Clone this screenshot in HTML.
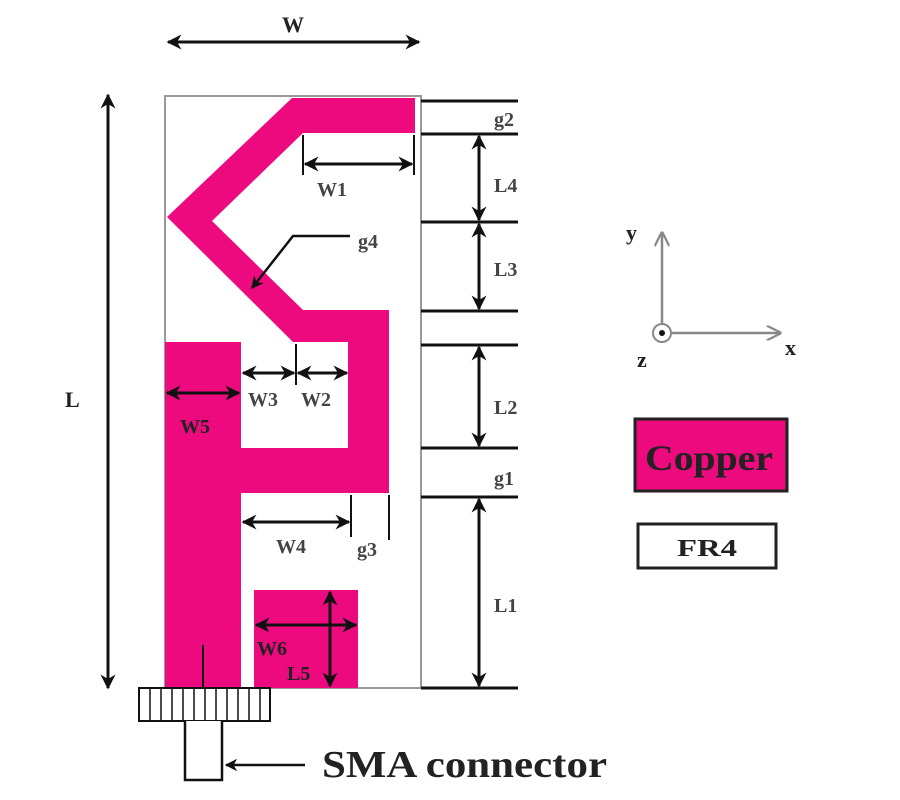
<!DOCTYPE html>
<html><head><meta charset="utf-8"><style>body{margin:0;background:#fff}svg{display:block}</style></head><body>
<svg width="900" height="800" viewBox="0 0 900 800" xmlns="http://www.w3.org/2000/svg" font-family="Liberation Serif, serif" font-weight="bold">
<defs>
<marker id="a" viewBox="0 0 10 10" refX="9" refY="5" markerWidth="5" markerHeight="5" orient="auto-start-reverse"><path d="M0,0 L10,5 L0,10 L3,5 z" fill="#111"/></marker>
<marker id="g" viewBox="0 0 10 10" refX="9" refY="5" markerWidth="6" markerHeight="6" orient="auto"><path d="M0,0 L10,5 L0,10" fill="none" stroke="#888" stroke-width="1.5"/></marker>
</defs>
<rect x="165" y="96" width="256" height="592" fill="#fff" stroke="#999" stroke-width="2"/>
<g fill="#ec0a7e">
<polygon points="292,98 415,98 415,133 303,133 212,221 303,310 389,310 389,493 241,493 241,448 348,448 348,342 293,342 167,217"/>
<rect x="165" y="342" width="76" height="346"/>
<rect x="254" y="590" width="104" height="98"/>
</g>
<g stroke="#111" stroke-width="3" fill="none">
<line x1="168" y1="42" x2="419" y2="42" marker-start="url(#a)" marker-end="url(#a)"/>
<line x1="108" y1="95" x2="108" y2="688" marker-start="url(#a)" marker-end="url(#a)"/>
<g stroke-width="3">
<line x1="421" y1="101" x2="518" y2="101"/><line x1="421" y1="134" x2="518" y2="134"/>
<line x1="421" y1="222" x2="518" y2="222"/><line x1="421" y1="311" x2="518" y2="311"/>
<line x1="421" y1="345" x2="518" y2="345"/><line x1="421" y1="448" x2="518" y2="448"/>
<line x1="421" y1="497" x2="518" y2="497"/><line x1="421" y1="688" x2="518" y2="688"/>
</g>
<line x1="479" y1="136" x2="479" y2="220" marker-start="url(#a)" marker-end="url(#a)"/>
<line x1="479" y1="224" x2="479" y2="309" marker-start="url(#a)" marker-end="url(#a)"/>
<line x1="479" y1="347" x2="479" y2="446" marker-start="url(#a)" marker-end="url(#a)"/>
<line x1="479" y1="499" x2="479" y2="686" marker-start="url(#a)" marker-end="url(#a)"/>
<line x1="303" y1="135" x2="303" y2="175" stroke-width="2"/>
<line x1="414" y1="135" x2="414" y2="175" stroke-width="2"/>
<line x1="305" y1="164" x2="412" y2="164" marker-start="url(#a)" marker-end="url(#a)"/>
<polyline points="350,236 293,236 252,288" stroke-width="2.5" marker-end="url(#a)"/>
<line x1="296" y1="344" x2="296" y2="385" stroke-width="2"/>
<line x1="243" y1="373" x2="294" y2="373" marker-start="url(#a)" marker-end="url(#a)"/>
<line x1="298" y1="373" x2="347" y2="373" marker-start="url(#a)" marker-end="url(#a)"/>
<line x1="167" y1="393" x2="239" y2="393" marker-start="url(#a)" marker-end="url(#a)"/>
<line x1="351" y1="495" x2="351" y2="537" stroke-width="2"/>
<line x1="389" y1="495" x2="389" y2="540" stroke-width="2"/>
<line x1="243" y1="522" x2="349" y2="522" marker-start="url(#a)" marker-end="url(#a)"/>
<line x1="256" y1="625" x2="356" y2="625" marker-start="url(#a)" marker-end="url(#a)"/>
<line x1="330" y1="592" x2="330" y2="686" marker-start="url(#a)" marker-end="url(#a)"/>
<line x1="203" y1="645" x2="203" y2="688" stroke-width="2"/>
</g>
<g stroke="#111" stroke-width="1.5" fill="#fff">
<rect x="139" y="688" width="131" height="33" stroke-width="2"/>
<path d="M150,688v33M161,688v33M172,688v33M183,688v33M194,688v33M205,688v33M216,688v33M227,688v33M238,688v33M249,688v33M260,688v33" fill="none"/>
<path d="M185,721 V780 H222 V721" stroke-width="2.5"/>
</g>
<line x1="305" y1="765" x2="226" y2="765" stroke="#111" stroke-width="2.5" marker-end="url(#a)"/>
<g stroke="#888" stroke-width="2.5" fill="none">
<line x1="662" y1="323" x2="662" y2="233" marker-end="url(#g)"/>
<line x1="672" y1="333" x2="780" y2="333" marker-end="url(#g)"/>
<circle cx="662" cy="333" r="9" stroke-width="2"/>
</g>
<circle cx="662" cy="333" r="3" fill="#111"/>
<rect x="635" y="419" width="152" height="72" fill="#ec0a7e" stroke="#222" stroke-width="3"/>
<rect x="638" y="524" width="138" height="44" fill="#fff" stroke="#222" stroke-width="3"/>
<g fill="#222">
<text x="293" y="32" font-size="22" text-anchor="middle">W</text>
<text x="65" y="407" font-size="22">L</text>
<text x="494" y="126" font-size="20" fill="#444">g2</text>
<text x="494" y="192" font-size="20" fill="#444">L4</text>
<text x="494" y="276" font-size="20" fill="#444">L3</text>
<text x="494" y="414" font-size="20" fill="#444">L2</text>
<text x="494" y="485" font-size="20" fill="#444">g1</text>
<text x="494" y="612" font-size="20" fill="#444">L1</text>
<text x="317" y="196" font-size="20" fill="#444">W1</text>
<text x="358" y="248" font-size="20" fill="#444">g4</text>
<text x="248" y="406" font-size="20" fill="#444">W3</text>
<text x="301" y="406" font-size="20" fill="#444">W2</text>
<text x="180" y="433" font-size="20">W5</text>
<text x="276" y="553" font-size="20" fill="#444">W4</text>
<text x="357" y="556" font-size="20" fill="#444">g3</text>
<text x="257" y="655" font-size="20">W6</text>
<text x="287" y="680" font-size="20">L5</text>
<text x="322" y="777" font-size="38" textLength="285" lengthAdjust="spacingAndGlyphs">SMA connector</text>
<text x="626" y="240" font-size="22">y</text>
<text x="785" y="355" font-size="22">x</text>
<text x="637" y="367" font-size="22">z</text>
<text x="645" y="470" font-size="36" textLength="128" lengthAdjust="spacingAndGlyphs">Copper</text>
<text x="677" y="556" font-size="24" textLength="60" lengthAdjust="spacingAndGlyphs">FR4</text>
</g>
</svg>
</body></html>
